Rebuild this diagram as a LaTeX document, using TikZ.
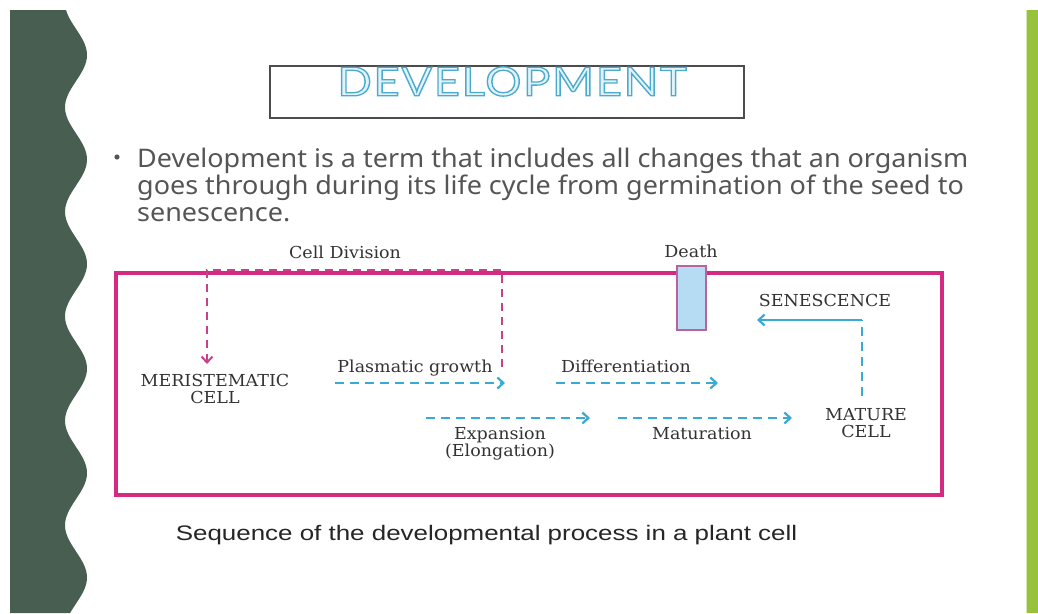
\documentclass[tikz,border=0pt]{standalone}
\usepackage{fontspec}
\setmainfont{DejaVu Serif}
\newfontfamily\bodyfont{Noto Sans}
\newfontfamily\capfont{Liberation Sans}
\newfontfamily\titlefont{Lato}[FakeBold=3.2,LetterSpace=4]
\usetikzlibrary{arrows.meta}
\definecolor{stripgreen}{HTML}{475E50}
\definecolor{limegreen}{HTML}{97C23C}
\definecolor{boxpink}{HTML}{D42A82}
\definecolor{divpink}{HTML}{C8408A}
\definecolor{arrblue}{HTML}{3BA9D6}
\definecolor{txtgray}{HTML}{555555}
\definecolor{lbltxt}{HTML}{333333}
\definecolor{deathfill}{HTML}{B6DCF4}
\definecolor{deathedge}{HTML}{B8639E}
\newcommand{\wide}[2]{\scalebox{#1}[1]{#2}}
\newcommand{\outlinetext}[1]{\special{pdf:bcolor [0.88 0.95 0.98] [0.30 0.67 0.80]}#1\special{pdf:ecolor}}
\tikzset{
  lbl/.style={font=\fontsize{16.5}{17}\selectfont, text=lbltxt, inner sep=0pt, align=center},
  bluearrow/.style={draw=arrblue, line width=2.6pt, dash pattern=on 9pt off 6pt, -{Straight Barb[length=6pt,width=11pt,line width=2.2pt]}},
  pinkdash/.style={draw=divpink, line width=2.4pt, dash pattern=on 8pt off 6pt},
  bodyline/.style={font=\bodyfont\fontsize{25.6}{27}\selectfont, text=txtgray, inner sep=0pt, anchor=base west}
}
\begin{document}
\begin{tikzpicture}[x=1pt,y=-1pt]
\useasboundingbox (0,0) rectangle (1038,613);
\fill[white] (0,0) rectangle (1038,613);
% left wavy strip
\fill[stripgreen] (10,10) -- plot[domain=10:613, samples=200, smooth] ({76+11*cos(((\x-55)/104.5)*360)}, \x) -- (10,613) -- cycle;
% right green bar
\fill[limegreen] (1027,10) rectangle (1038,613);
\draw[limegreen!40, line width=1pt] (1026,10) -- (1026,613);
% title
\node[draw=black!70, line width=1.3pt, minimum width=474pt, minimum height=52pt, inner sep=0pt] (titlebox) at (507,92) {};
\node[inner sep=0pt] (title) at (512,81.5) {\resizebox{349pt}{29pt}{\titlefont\fontsize{40}{44}\selectfont\outlinetext{DEVELOPMENT}}};
% bullet text
\fill[txtgray] (117,157) circle (2.6pt);
\node[bodyline] (l1) at (137,167) {\wide{1.053}{Development is a term that includes all changes that an organism}};
\node[bodyline] (l2) at (137,194) {\wide{1.053}{goes through during its life cycle from germination of the seed to}};
\node[bodyline] (l3) at (137,221) {\wide{1.053}{senescence.}};
% main box
\draw[boxpink, line width=4pt] (116,273) rectangle (942,495);
% labels
\node[lbl] (celldiv) at (345,252) {\wide{1.06}{Cell Division}};
\node[lbl] (death) at (691,251) {\wide{1.06}{Death}};
\node[lbl] (sen) at (825,300) {\wide{1.06}{SENESCENCE}};
\node[lbl] (mer) at (215,389) {\wide{1.06}{MERISTEMATIC}\\\wide{1.06}{CELL}};
\node[lbl] (plas) at (415,368) {\wide{1.06}{Plasmatic growth}};
\node[lbl] (diff) at (626,366) {\wide{1.06}{Differentiation}};
\node[lbl] (exp) at (500,444) {\wide{1.06}{Expansion}\\\wide{1.06}{(Elongation)}};
\node[lbl] (mat) at (702,434) {\wide{1.06}{Maturation}};
\node[lbl] (mature) at (866,423) {\wide{1.06}{MATURE}\\\wide{1.06}{CELL}};
% death box
\node[draw=deathedge, fill=deathfill, line width=1.3pt, minimum width=29pt, minimum height=64pt, inner sep=0pt] (deathbox) at (691.5,298) {};
% coordinates
\coordinate (cdA) at (502,367);
\coordinate (cdB) at (502,270);
\coordinate (cdC) at (207,270);
\coordinate (cdD) at (207,364);
\coordinate (pgA) at (335,383);
\coordinate (pgB) at (505,383);
\coordinate (dfA) at (556,383);
\coordinate (dfB) at (718,383);
\coordinate (exA) at (426,418);
\coordinate (exB) at (590,418);
\coordinate (mtA) at (618,418);
\coordinate (mtB) at (792,418);
\coordinate (snA) at (862,396);
\coordinate (snB) at (862,320);
\coordinate (snC) at (757,320);
% connectors
\draw[pinkdash, -{Straight Barb[length=6pt,width=11pt,line width=2pt]}] (cdA) -- (cdB) -- (cdC) -- (cdD);
\draw[bluearrow] (pgA) -- (pgB);
\draw[bluearrow] (dfA) -- (dfB);
\draw[bluearrow] (exA) -- (exB);
\draw[bluearrow] (mtA) -- (mtB);
\draw[draw=arrblue, line width=2.6pt, dash pattern=on 9pt off 6pt] (snA) -- (snB);
\draw[draw=arrblue, line width=2.6pt, -{Straight Barb[length=6pt,width=11pt,line width=2.2pt]}] (snB) -- (snC);
% caption
\node[font=\capfont\fontsize{21}{24}\selectfont, text=black!85, inner sep=0pt, anchor=base] (cap) at (486.5,540) {\wide{1.235}{Sequence of the developmental process in a plant cell}};
\end{tikzpicture}
\end{document}
